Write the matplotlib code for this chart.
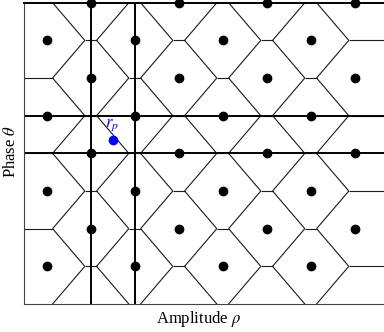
import matplotlib
matplotlib.use("Agg")
import matplotlib.pyplot as plt
import numpy as np

plt.rcParams["font.family"] = ["Liberation Serif", "DejaVu Serif"]
plt.rcParams["mathtext.fontset"] = "stix"

# Constellation: amplitude columns, with alternating phase rows
amp_levels = [1, 2, 3, 4, 5, 6, 7, 8]
phase_odd_cols = [1, 3, 5, 7]
phase_even_cols = [2, 4, 6, 8]
# even columns also carry a symbol on the lower phase boundary; it shapes
# the decision regions but is not drawn as a dot
phase_even_cols_edge = [0]

# received sample r_p and the grid lines of its nearest neighbours
rp_amp, rp_phase = 2.51, 4.35
grid_amps = [2, 3]
grid_phases = [4, 5]

X_RANGE = (0.484, 8.666)
Y_RANGE = (0, 8)
PHASE_STEP = 37.66 / 44.0  # one phase step measured in amplitude steps


def clip_halfplane(poly, a, b, c):
    # keep the part of poly where a*x + b*y <= c
    out = []
    n = len(poly)
    for k in range(n):
        p, q = poly[k], poly[(k + 1) % n]
        fp = a * p[0] + b * p[1] - c
        fq = a * q[0] + b * q[1] - c
        if fp <= 0:
            out.append(p)
        if fp * fq < 0:
            t = fp / (fp - fq)
            out.append((p[0] + t * (q[0] - p[0]), p[1] + t * (q[1] - p[1])))
    return out


def voronoi_edges(pts):
    box = [(-3, -3), (12, -3), (12, 12), (-3, 12)]
    seen = set()
    edges = []
    for i, pi in enumerate(pts):
        poly = list(box)
        for j, pj in enumerate(pts):
            if i == j:
                continue
            a, b = pj[0] - pi[0], pj[1] - pi[1]
            c = (pj[0] ** 2 + pj[1] ** 2 - pi[0] ** 2 - pi[1] ** 2) / 2
            poly = clip_halfplane(poly, a, b, c)
        for k in range(len(poly)):
            p, q = poly[k], poly[(k + 1) % len(poly)]
            key = tuple(sorted([(round(p[0], 4), round(p[1], 4)),
                                (round(q[0], 4), round(q[1], 4))]))
            if key not in seen:
                seen.add(key)
                edges.append((p, q))
    return edges


amps, phases = [], []
for a in amp_levels:
    for ph in (phase_odd_cols if a % 2 else phase_even_cols):
        amps.append(a)
        phases.append(ph)
amps = np.array(amps, float)
phases = np.array(phases, float)

edge_amps = [a for a in amp_levels if a % 2 == 0 for _ in phase_even_cols_edge]
edge_phases = [ph for a in amp_levels if a % 2 == 0 for ph in phase_even_cols_edge]

all_amps = np.concatenate([amps, edge_amps])
all_phases = np.concatenate([phases, edge_phases])
scaled = list(zip(all_amps, all_phases * PHASE_STEP))

fig = plt.figure(figsize=(3.84, 3.32), dpi=100)
ax = fig.add_axes([24 / 384, 28 / 332, 1 - 24 / 384, 301.3 / 332])

for p, q in voronoi_edges(scaled):
    ax.plot([p[0], q[0]], [p[1] / PHASE_STEP, q[1] / PHASE_STEP],
            color="#1a1a1a", lw=0.8, solid_capstyle="butt")

for a in grid_amps:
    ax.axvline(a, color="black", lw=1.4)
for ph in grid_phases:
    ax.axhline(ph, color="black", lw=1.4)

ax.scatter(amps, phases, s=36, color="black", zorder=5, clip_on=False)
ax.scatter([rp_amp], [rp_phase], s=36, color="blue", zorder=6)
ax.text(rp_amp - 0.03, rp_phase + 0.4, "$r_p$", color="blue",
        fontsize=12, ha="center", va="center")

ax.set_xlim(*X_RANGE)
ax.set_ylim(*Y_RANGE)
ax.set_xticks([])
ax.set_yticks([])
ax.spines["right"].set_visible(False)
ax.spines["top"].set_color("black")
ax.spines["top"].set_linewidth(1.4)
for side in ("left", "bottom"):
    ax.spines[side].set_color("#444444")
    ax.spines[side].set_linewidth(0.8)

fig.text(199 / 384, 1 - 323 / 332, r"Amplitude $\rho$", fontsize=12,
         ha="center", va="baseline")
fig.text(11 / 384, 1 - 151 / 332, r"Phase $\theta$", fontsize=12,
         ha="center", va="center", rotation=90)

fig.savefig("out.png", dpi=100)
